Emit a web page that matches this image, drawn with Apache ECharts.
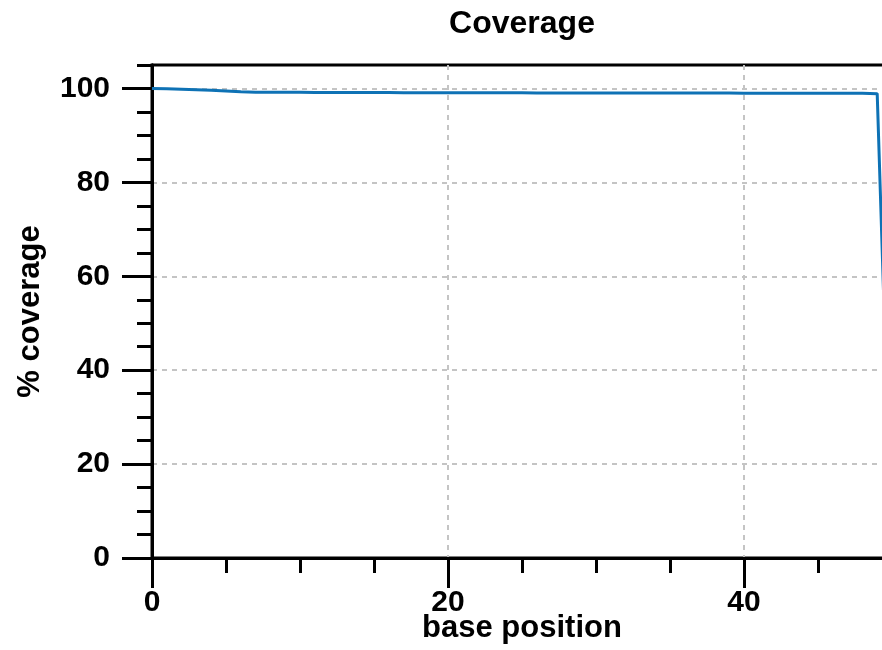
<!DOCTYPE html>
<html>
<head>
<meta charset="utf-8">
<script src="https://cdn.jsdelivr.net/npm/echarts@6/dist/echarts.min.js"></script>
<style>
html,body{margin:0;padding:0;background:#fff;}
#chart{width:882px;height:650px;}
</style>
</head>
<body>
<div id="chart"></div>
<script>
const positions = [0,1,2,3,4,5,6,7,8,9,10,11,12,13,14,15,16,17,18,19,20,21,22,23,24,25,26,27,28,29,30,31,32,33,34,35,36,37,38,39,40,41,42,43,44,45,46,47,48,49,50];
const coverage = [100,99.95,99.85,99.75,99.6,99.45,99.3,99.22,99.2,99.18,99.17,99.16,99.15,99.14,99.13,99.12,99.12,99.11,99.1,99.1,99.09,99.09,99.08,99.08,99.07,99.07,99.06,99.06,99.05,99.05,99.05,99.04,99.04,99.03,99.03,99.03,99.02,99.02,99.01,99.01,99.0,99.0,99.0,98.99,98.99,98.98,98.98,98.97,98.96,98.9,0];
const xMajorTicks = [0,20,40];
const yMajorTicks = [0,20,40,60,80,100];

const FONT = 'Liberation Sans';
const chart = echarts.init(document.getElementById('chart'), null, {renderer:'canvas'});
const axisLineStyle = {color:'#000', width:3};
chart.setOption({
  animation:false,
  backgroundColor:'#fff',
  title:{
    text:'Coverage', left:517, top:3, textAlign:'center',
    textStyle:{fontFamily:FONT, fontWeight:'bold', fontSize:32, color:'#000'}
  },
  grid:{left:152, top:65, width:740, height:493, outerBoundsMode:'none', containLabel:false,
    show:true, borderColor:'#000', borderWidth:3, backgroundColor:'transparent'},
  xAxis:[{
    type:'value', min:0, max:50, interval:20,
    name:'base position', nameLocation:'middle', nameGap:55, nameMoveOverlap:false,
    nameTextStyle:{fontFamily:FONT, fontWeight:'bold', fontSize:31, color:'#000'},
    axisLine:{show:true, onZero:false, lineStyle:axisLineStyle},
    axisTick:{show:true, inside:false, length:30, lineStyle:{color:'#000', width:3}, customValues:xMajorTicks},
    axisLabel:{show:true, margin:30, fontFamily:FONT, fontWeight:'bold', fontSize:30, color:'#000', customValues:xMajorTicks,
      formatter:v => (v % 20 === 0 && v <= 40) ? String(v) : ''},
    splitLine:{show:true, lineStyle:{color:'#c4c4c4', width:2, type:[5,5]}}
  },{
    type:'value', min:0, max:50, interval:5, position:'bottom',
    axisLine:{show:true, onZero:false, lineStyle:axisLineStyle},
    axisTick:{show:true, inside:false, length:15, lineStyle:{color:'#000', width:3}},
    axisLabel:{show:false}, splitLine:{show:false}
  }],
  yAxis:[{
    type:'value', min:0, max:105, interval:20,
    name:'% coverage', nameLocation:'middle', nameGap:106, nameMoveOverlap:false,
    nameTextStyle:{fontFamily:FONT, fontWeight:'bold', fontSize:31, color:'#000'},
    axisLine:{show:true, onZero:false, lineStyle:axisLineStyle},
    axisTick:{show:true, inside:false, length:30, lineStyle:{color:'#000', width:3}, customValues:yMajorTicks},
    axisLabel:{show:true, margin:42, fontFamily:FONT, fontWeight:'bold', fontSize:30, color:'#000', customValues:yMajorTicks,
      formatter:v => (v % 20 === 0) ? String(v) : ''},
    splitLine:{show:true, lineStyle:{color:'#c4c4c4', width:2, type:[5,5]}}
  },{
    type:'value', min:0, max:105, interval:5, position:'left',
    axisLine:{show:true, onZero:false, lineStyle:axisLineStyle},
    axisTick:{show:true, inside:false, length:15, lineStyle:{color:'#000', width:3}},
    axisLabel:{show:false}, splitLine:{show:false}
  }],
  series:[{
    type:'line', xAxisIndex:0, yAxisIndex:0,
    data: positions.map((p,i) => [p, coverage[i]]),
    showSymbol:false, symbol:'none',
    lineStyle:{color:'#0e72b5', width:3},
    clip:true, z:3
  }]
});
</script>
</body>
</html>
